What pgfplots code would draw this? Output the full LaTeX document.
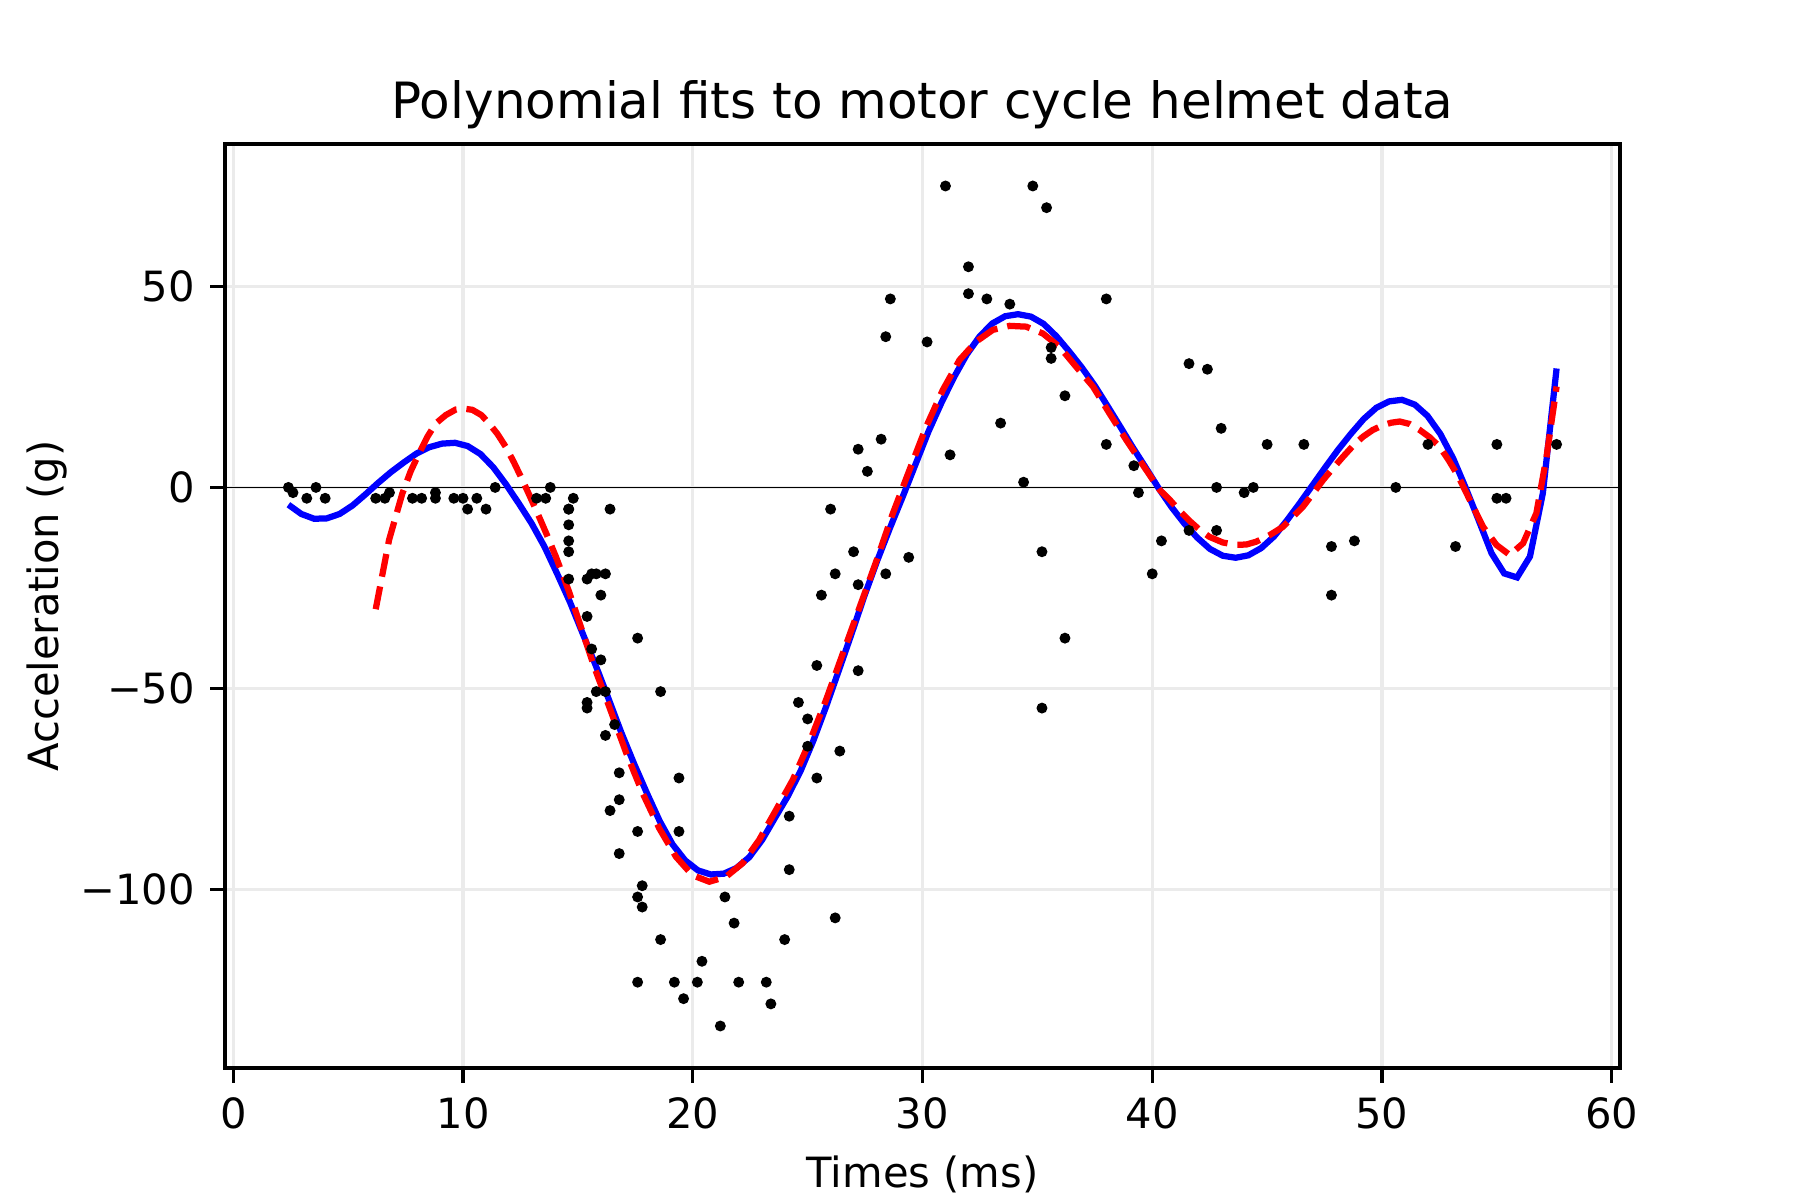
\documentclass[border=0pt]{standalone}
\usepackage{pgfplots}
\pgfplotsset{compat=1.18}
\usepackage{fontspec}
\setmainfont{DejaVu Sans}
\definecolor{gridgray}{RGB}{235,235,235}
\begin{document}
\begin{tikzpicture}
\begin{axis}[
  width=334.8pt, height=221.76pt, scale only axis,
  xmin=-0.36, xmax=60.36, ymin=-144.45, ymax=85.45,
  xtick={0,10,20,30,40,50,60},
  xticklabels={0,10,20,30,40,50,60},
  ytick={-100,-50,0,50},
  yticklabels={−100,−50,0,50},
  tick align=outside, xtick pos=bottom, ytick pos=left,
  major tick length=3.5pt,
  every tick/.style={black, line width=0.8pt},
  axis line style={line width=0.8pt, black},
  grid=major,
  major grid style={line width=0.8pt, gridgray},
  tick label style={font=\fontsize{10}{12}\selectfont, inner sep=0pt},
  xticklabel style={anchor=north, yshift=-3.5pt},
  yticklabel style={anchor=east, xshift=-3.5pt},
  xlabel={Times (ms)},
  xlabel style={font=\fontsize{10}{12}\selectfont, at={(axis description cs:0.5,-0.1294)}, anchor=base, inner sep=0pt},
  ylabel={Acceleration (g)},
  ylabel style={font=\fontsize{10}{12}\selectfont, at={(axis description cs:-0.1195,0.5)}, anchor=base, rotate=0, inner sep=0pt},
]
\addplot[black, line width=0.4pt] coordinates {(-0.36,0) (60.36,0)};
\addplot[only marks, mark=*, mark size=1.1pt, black] table {
x y
2.4 0.0
2.6 -1.3
3.2 -2.7
3.6 0.0
4.0 -2.7
6.2 -2.7
6.6 -2.7
6.8 -1.3
7.8 -2.7
8.2 -2.7
8.8 -1.3
8.8 -2.7
9.6 -2.7
10.0 -2.7
10.2 -5.4
10.6 -2.7
11.0 -5.4
11.4 0.0
13.2 -2.7
13.6 -2.7
13.8 0.0
14.6 -13.3
14.6 -5.4
14.6 -5.4
14.6 -9.3
14.6 -16.0
14.6 -22.8
14.8 -2.7
15.4 -22.8
15.4 -32.1
15.4 -53.5
15.4 -54.9
15.6 -40.2
15.6 -21.5
15.8 -21.5
15.8 -50.8
16.0 -42.9
16.0 -26.8
16.2 -21.5
16.2 -50.8
16.2 -61.7
16.4 -5.4
16.4 -80.4
16.6 -59.0
16.8 -71.0
16.8 -91.1
16.8 -77.7
17.6 -37.5
17.6 -85.6
17.6 -123.1
17.6 -101.9
17.8 -99.1
17.8 -104.4
18.6 -112.5
18.6 -50.8
19.2 -123.1
19.4 -85.6
19.4 -72.3
19.6 -127.2
20.2 -123.1
20.4 -117.9
21.2 -134.0
21.4 -101.9
21.8 -108.4
22.0 -123.1
23.2 -123.1
23.4 -128.5
24.0 -112.5
24.2 -95.1
24.2 -81.8
24.6 -53.5
25.0 -64.4
25.0 -57.6
25.4 -72.3
25.4 -44.3
25.6 -26.8
26.0 -5.4
26.2 -107.1
26.2 -21.5
26.4 -65.6
27.0 -16.0
27.2 -45.6
27.2 -24.2
27.2 9.5
27.6 4.0
28.2 12.0
28.4 -21.5
28.4 37.5
28.6 46.9
29.4 -17.4
30.2 36.2
31.0 75.0
31.2 8.1
32.0 54.9
32.0 48.2
32.8 46.9
33.4 16.0
33.8 45.6
34.4 1.3
34.8 75.0
35.2 -16.0
35.2 -54.9
35.4 69.6
35.6 34.8
35.6 32.1
36.2 -37.5
36.2 22.8
38.0 46.9
38.0 10.7
39.2 5.4
39.4 -1.3
40.0 -21.5
40.4 -13.3
41.6 30.8
41.6 -10.7
42.4 29.4
42.8 0.0
42.8 -10.7
43.0 14.7
44.0 -1.3
44.4 0.0
45.0 10.7
46.6 10.7
47.8 -26.8
47.8 -14.7
48.8 -13.3
50.6 0.0
52.0 10.7
53.2 -14.7
55.0 -2.7
55.0 10.7
55.4 -2.7
57.6 10.7
};
\addplot[blue, line width=1.5pt] table {
x y
2.4 -4.3
2.96 -6.6
3.52 -7.8
4.07 -7.7
4.63 -6.6
5.19 -4.5
5.74 -1.8
6.3 1.1
6.86 3.8
7.42 6.2
7.97 8.4
8.53 10.0
9.09 10.9
9.65 11.1
10.2 10.3
10.76 8.3
11.32 5.0
11.88 0.7
12.43 -4.0
12.99 -9.0
13.55 -14.8
14.1 -21.5
14.66 -28.6
15.22 -36.5
15.77 -44.2
16.33 -52.5
16.89 -61.0
17.45 -68.8
18.0 -76.0
18.56 -83.0
19.12 -88.8
19.67 -92.8
20.23 -95.3
20.79 -96.3
21.35 -96.1
21.9 -94.7
22.46 -92.0
23.02 -87.7
23.57 -82.3
24.13 -76.9
24.69 -70.6
25.25 -63.0
25.8 -54.6
26.36 -45.5
26.92 -36.3
27.47 -27.0
28.03 -18.2
28.59 -10.0
29.14 -2.3
29.7 5.8
30.26 13.9
30.82 21.0
31.37 27.4
31.93 33.1
32.49 37.6
33.04 40.8
33.6 42.6
34.16 43.1
34.72 42.5
35.27 40.7
35.83 37.6
36.39 33.8
36.94 29.8
37.5 25.3
38.06 20.2
38.62 15.0
39.17 9.8
39.73 4.8
40.29 -0.3
40.84 -4.9
41.4 -9.0
41.96 -12.5
42.51 -15.3
43.07 -17.0
43.63 -17.5
44.18 -16.9
44.74 -15.1
45.3 -12.2
45.85 -8.3
46.41 -4.0
46.97 0.5
47.53 5.0
48.08 9.3
48.64 13.3
49.2 17.0
49.75 19.8
50.31 21.4
50.87 21.8
51.43 20.6
51.98 17.8
52.54 13.3
53.1 7.2
53.65 -0.2
54.21 -8.2
54.77 -16.4
55.32 -21.4
55.88 -22.4
56.44 -17.2
57.0 -1.5
57.6 29.6
};
\addplot[red, line width=1.5pt, dash pattern=on 5.55pt off 2.4pt] table {
x y
6.2 -30.3
6.78 -13.1
7.36 -1.5
7.72 4.0
8.09 8.5
8.45 12.6
8.81 15.9
9.25 18.0
9.69 19.4
10.05 19.6
10.41 19.3
10.8 18.0
11.14 15.9
11.5 13.3
11.86 10.1
12.22 6.2
12.59 1.8
12.95 -2.7
13.31 -7.3
13.68 -12.2
14.04 -17.2
14.62 -26.0
15.06 -33.5
15.7 -44.5
16.36 -54.5
17.1 -66.0
17.82 -76.1
18.54 -84.8
19.27 -91.9
19.99 -96.5
20.72 -98.1
21.44 -96.9
22.17 -93.5
22.89 -87.7
23.6 -80.5
24.35 -72.8
25.07 -63.5
25.8 -52.9
26.52 -41.5
27.25 -30.0
27.98 -18.5
28.7 -6.6
29.43 4.3
30.16 15.1
30.88 24.2
31.61 31.7
32.34 36.3
33.06 39.2
33.79 40.2
34.51 40.0
35.24 38.3
35.96 35.0
36.69 30.0
37.42 25.1
38.14 18.4
38.87 11.8
39.59 5.6
40.32 -0.6
40.75 -3.0
41.2 -5.9
41.62 -8.3
42.05 -10.5
42.49 -12.3
43.07 -13.7
43.66 -14.3
44.1 -14.2
44.53 -13.5
45.1 -11.9
45.69 -9.8
46.13 -7.3
46.56 -4.8
47.0 -1.5
47.43 1.8
47.87 4.8
48.3 7.6
48.73 10.3
49.17 12.6
49.6 14.3
50.05 15.5
50.4 16.1
50.77 16.4
51.2 15.8
51.64 14.3
52.07 12.5
52.51 10.1
52.9 6.8
53.3 3.0
53.82 -3.1
54.4 -9.8
54.98 -14.3
55.56 -16.8
56.14 -13.9
56.72 -6.4
57.16 7.6
57.6 25.1
};
\end{axis}
\node[font=\fontsize{12}{14}\selectfont, anchor=base, inner sep=0pt] at ([yshift=6.2pt]current axis.north) {Polynomial fits to motor cycle helmet data};
\pgfresetboundingbox
\path ([xshift=-54pt, yshift=-31.68pt]current axis.south west) rectangle ([xshift=43.2pt, yshift=34.56pt]current axis.north east);
\end{tikzpicture}
\end{document}
